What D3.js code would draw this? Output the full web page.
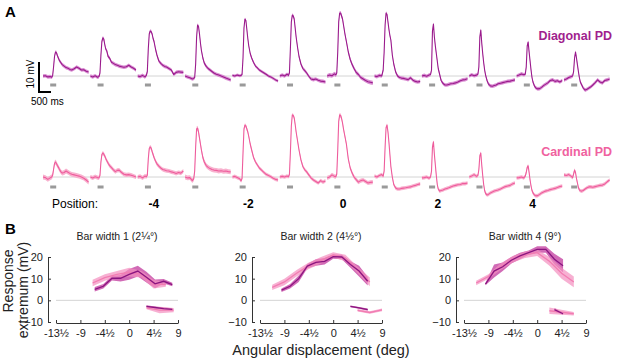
<!DOCTYPE html>
<html>
<head>
<meta charset="utf-8">
<script src="https://cdn.jsdelivr.net/npm/d3@7"></script>
<style>
  body { margin: 0; background: #fff; }
  svg { font-family: "Liberation Sans", Arial, sans-serif; }
</style>
</head>
<body>
<svg id="fig" width="617" height="358"></svg>
<script>
// ---- Panel A data: mean membrane potential (mV) per bar position ----
const positions = [-6, -5, -4, -3, -2, -1, 0, 1, 2, 3, 4, 5];
const positionLabels = [-4, -2, 0, 2, 4];
const traceTimes = [0, 100, 200, 300, 360, 400, 440, 480, 520, 560, 600, 640, 680, 740,
  800, 880, 960, 1040, 1120, 1200, 1300, 1400, 1500, 1600, 1700, 1800, 1900]; // ms
const stimWindow = [300, 550]; // ms

const diagonalTraces = [
  [0, 0.1, -0.3, -0.2, -0.4, 0, 3, 6.5, 8, 7.8, 6.8, 6, 5.2, 4.5, 3.8, 3.3, 2.8, 2.6, 2.2, 2, 2.4, 3, 2.6, 2, 2.1, 1.6, 1.3],
  [0, -0.3, 0.1, -0.4, -0.2, 1, 7, 11.5, 12.7, 12.3, 10.5, 9, 8.5, 6.5, 6, 4.6, 4.2, 3.8, 3.6, 3.3, 3.1, 2.9, 3.1, 3.6, 3, 2.6, 2],
  [0, -0.2, 0.2, -0.3, 0.2, 1.5, 9, 14, 15, 14.8, 14, 12.5, 11.5, 9, 7, 5, 4.2, 3.6, 3.2, 3, 2.5, 2, 0.5, 1.2, 1.4, 1.3, 1.2],
  [0, -0.3, -0.6, -1, -0.8, -0.5, 4, 13, 17, 16.5, 14, 11, 8.5, 6, 4.3, 3.2, 2.5, 2, 1.5, 1, 0.6, 0.3, 0, -0.3, -0.7, -1, -1.3],
  [0.2, 0, 0.3, 0.1, 0.2, 0.5, 6, 16, 19, 18.5, 15.5, 12.5, 10, 7.5, 6, 4.5, 3.3, 2.7, 2, 1.6, 1.1, 0.6, 0, -0.3, -0.8, -1.3, -1.7],
  [0, 0.3, 0, 0.6, 0.2, 1, 9, 18, 20.3, 20, 19, 16, 13, 9.5, 6.5, 4, 2.5, 1.8, 1, 0, -1, -1.2, -1, -1.4, -1.7, -1.8, -2],
  [0, 0.3, 0.1, 0.7, 0.4, 1, 8, 18, 21, 21, 20, 19, 17, 14, 11.5, 8, 5.5, 3.8, 2.5, 1.3, 0.5, -0.5, -1, -1.5, -1.9, -2.1, -2.3],
  [0, -0.2, 0.2, 0, 2, 8, 17, 21, 20.5, 18, 15.5, 13.5, 12, 7, 4, 1.3, 0, -0.5, -0.7, -0.8, -1, -1.2, -0.6, -1.4, -1.8, -2, -1.8],
  [0, 0.2, -0.1, 0.3, 0.5, 2, 15, 17.3, 13, 10, 7.5, 5, 2.5, 0.5, -1.5, -2.5, -3, -3, -2.8, -2.6, -2.5, -2.3, -2, -1.6, -1.3, -1.2, -0.9],
  [0, 0.4, 0.1, 0.3, 0.6, 3, 13, 15.3, 11, 7.5, 4.5, 2, 0.3, -1.5, -2.7, -3.3, -3.4, -3.2, -3, -2.6, -2.4, -2.2, -2, -1.8, -1.7, -1.5, -1.3],
  [0, 0.3, 0.7, 0.4, 0.6, 3, 10, 11.3, 8, 5, 2, -0.5, -2, -3.3, -4, -4.3, -4.2, -3.8, -3.2, -2.8, -2.3, -1.5, -1.3, -1.8, -1.6, -2, -1.5],
  [-1.3, -1, -0.5, -0.2, 0, 1.5, 6, 8, 6, 3.7, 1.5, -0.5, -2, -3, -4, -4.7, -4.4, -4, -3.6, -3, -2.2, -1.3, -2, -2.3, -1.5, -1.3, -1]
];
const diagonalSem = [0.6, 0.6, 0.6, 0.6, 0.5, 0.6, 0.7, 0.6, 0.6, 0.6, 0.6, 0.6];

const cardinalTraces = [
  [0, -0.2, -0.8, -0.3, 0, 0.5, 2.5, 4.5, 5, 4.5, 3.8, 3.3, 2.6, 1.8, 1.3, 1.5, 2, 1.6, 1.2, 0.9, 0.7, 0.5, 0.3, 0, -0.4, -1, -1.7],
  [0, -0.3, 0.1, -0.2, -0.3, 0.5, 5, 7.5, 8, 7.6, 7, 6.2, 5.5, 4.6, 3.8, 3.1, 2.4, 1.8, 2.2, 2.3, 1.5, 0.9, 0.7, 0.8, 0.6, 0.3, 0],
  [0, 0.2, -0.3, 0.3, 0.1, 0.6, 6, 9.5, 10, 9.6, 8.5, 7.5, 6.5, 5.3, 4.4, 3.6, 3, 2.5, 2.3, 2.1, 2, 1.7, 1.5, 1.2, 1.5, 1.3, 2],
  [0, -0.3, -0.2, -1.2, -0.6, 2, 10, 16, 16.3, 15, 13, 11, 9, 6.5, 5, 3.8, 3.2, 2.8, 2.5, 2.3, 2.2, 2, 2.1, 1.9, 2, 1.8, 1.7],
  [0, 0.2, -0.2, -0.6, -1.3, -0.5, 8, 16, 17.3, 17, 16, 15, 13.5, 11, 9, 6.5, 5, 4, 3, 2.4, 1.6, 0.9, 0.5, 0.1, -0.4, -0.8, -1],
  [0, 0.2, 0, 0.3, 0.1, 0.8, 8, 17, 20.7, 20.5, 19.7, 17.5, 15, 12, 9, 5.7, 3.5, 2.4, 1.7, 0.8, -0.3, -1, -1.5, -2, -1.2, -1.7, -1.3],
  [-0.3, 0, 0.7, 0.2, 0.1, 1, 9, 18.5, 20.7, 20.5, 19.5, 18, 16, 13.5, 11, 6, 3, 1.3, 0, -0.8, -1.7, -1.2, -1, -1.5, -2, -1.8, -1.7],
  [0.3, 0, 0.5, 0.8, 0.3, 2, 10, 16.5, 17.3, 15, 11.5, 7.5, 3.5, 0, -2.5, -3.7, -4, -4, -3.8, -3.7, -3.6, -3.4, -3.3, -3, -2.8, -2.5, -2.3],
  [-0.3, -0.2, 0, -0.4, 0, 2, 10, 11.7, 7.5, 4, 0.5, -2.5, -4, -4.7, -4.5, -4.3, -4, -3.8, -3.6, -3.3, -3, -2.8, -2.6, -2.5, -2.2, -2.2, -2],
  [0, 0.3, 0.8, 0.2, 0.5, 2.5, 7, 8, 4, 0.5, -2.5, -4.5, -5.5, -6, -5.8, -5.3, -5, -4.7, -4.5, -4.3, -4, -3.6, -3.2, -3, -2.8, -2.3, -2],
  [-0.3, -0.2, 0, -0.3, 0.3, 1.5, 3.2, 3.7, 1.5, -1, -3, -4.5, -5.3, -6, -6.3, -6.2, -5.8, -5.3, -5, -4.7, -4.5, -4.2, -4, -3.8, -3.5, -3.2, -3],
  [0.7, 0.5, 0.8, 0.2, -0.2, 1, 2.3, 1.5, -0.5, -2, -3.5, -4.3, -4.6, -4.7, -4.5, -4, -3.6, -3.3, -3.3, -3.4, -3.2, -3, -2.8, -2.7, -2.3, -1.6, -1]
];
const cardinalSem = [0.8, 0.7, 0.7, 0.8, 0.6, 0.6, 0.7, 0.6, 0.6, 0.6, 0.6, 0.6];

// ---- Panel B data: response extremum (mV) vs angular displacement (deg) ----
const xTicksB = [-13.5, -9, -4.5, 0, 4.5, 9];
const yTicksB = [-10, 0, 10, 20];
const barTitles = ["Bar width 1 (2¼°)", "Bar width 2 (4½°)", "Bar width 4 (9°)"];

const w1DiagX = [-6.36, -4.77, -3.18, -1.59, 0, 1.59, 3.18, 4.77, 6.36, 7.95];
const w1DiagMean = [5.1, 6.5, 10.2, 10.2, 12, 13.5, 10.7, 7.6, 8.8, 7.3];
const w1DiagSem = [1, 1, 1, 1.5, 2.5, 2.5, 2.5, 2, 1, 0.8];
const w1CardX = [-6.75, -4.5, -2.25, 0, 2.25, 4.5, 6.75];
const w1CardMean = [8, 10.5, 12, 13, 12, 7.5, 7.3];
const w1CardSem = [1.5, 1.5, 1.5, 2, 1.5, 2, 1];
const w1DiagNegX = [3.18, 4.77, 6.36, 7.95];
const w1DiagNegMean = [-2.8, -3.3, -3.8, -4.2];
const w1DiagNegSem = [0.5, 0.5, 0.5, 0.5];
const w1CardNegX = [3.2, 5.6, 8.2];
const w1CardNegMean = [-3.5, -4.5, -4.5];
const w1CardNegSem = [0.6, 1.5, 1];

const w2DiagX = [-9.54, -7.95, -6.36, -4.77, -3.18, -1.59, 0, 1.59, 3.18, 4.77, 6.36];
const w2DiagMean = [4.7, 6.5, 10, 15.8, 17.5, 18, 20.2, 20, 16.5, 13.5, 8.8];
const w2DiagSem = [0.8, 1, 1.5, 1, 1.5, 1.5, 1, 1, 1.5, 2.5, 2];
const w2CardX = [-11.25, -9, -6.75, -4.5, -2.25, 0, 2.25, 4.5, 6.75];
const w2CardMean = [6, 8.5, 12.5, 16, 18.5, 21, 19.5, 14, 8.5];
const w2CardSem = [1.2, 1.5, 1.5, 1.5, 1.5, 1.2, 1.5, 1.5, 2];
const w2DiagNegX = [3.18, 4.77, 6.36];
const w2DiagNegMean = [-2.8, -3.5, -4.3];
const w2DiagNegSem = [0.4, 0.4, 0.5];
const w2CardNegX = [4.5, 6.75, 9];
const w2CardNegMean = [-4.6, -5.6, -4.4];
const w2CardNegSem = [0.6, 0.6, 0.6];

const w3DiagX = [-9.54, -7.95, -6.36, -4.77, -3.18, -1.59, 0, 1.59, 3.18, 4.77];
const w3DiagMean = [7.5, 13.5, 15.5, 18.5, 20.5, 22, 23.5, 23.5, 19, 16];
const w3DiagSem = [0.5, 3, 2, 1.5, 1.5, 1, 1.5, 1.5, 2.5, 3];
const w3CardX = [-11.25, -9, -6.75, -4.5, -2.25, 0, 2.25, 4.5, 6.75];
const w3CardMean = [8, 11, 15.5, 19, 21, 22, 18, 12.5, 8.5];
const w3CardSem = [1, 1, 1.5, 1.5, 1.5, 1.5, 2, 2.5, 2.5];
const w3DiagNegX = [3.18, 4.77];
const w3DiagNegMean = [-4.3, -6.2];
const w3DiagNegSem = [0.8, 0.5];
const w3CardNegX = [2.25, 4.5, 6.75];
const w3CardNegMean = [-4.8, -5.5, -6.2];
const w3CardNegSem = [1.5, 1.2, 0.8];

// ---- drawing ----
const svg = d3.select("#fig");

// panel letters
svg.append("text").attr("x", 5).attr("y", 17).attr("font-size", 15).attr("font-weight", "bold").text("A");
svg.append("text").attr("x", 5).attr("y", 234).attr("font-size", 15).attr("font-weight", "bold").text("B");

// Panel A
const traceX = d3.scaleLinear().domain([-6, 5]).range([43, 564]);
const timeX = d3.scaleLinear().domain([0, 500]).range([0, 12]);

const rowsA = [
  { name: "Diagonal PD", traces: diagonalTraces, sem: diagonalSem,
    y: d3.scaleLinear().domain([0, 10]).range([76, 46]),
    line: "#9a1b8c", band: "#da8fd3", text: "#a11f8e", labelY: 40, markY: 83.5 },
  { name: "Cardinal PD", traces: cardinalTraces, sem: cardinalSem,
    y: d3.scaleLinear().domain([0, 10]).range([177, 147]),
    line: "#ee5c9c", band: "#f8b2cf", text: "#f0629f", labelY: 156, markY: 185.5 }
];

rowsA.forEach(row => {
  svg.append("line")
    .attr("x1", traceX(-6)).attr("x2", traceX(5) + timeX(1900))
    .attr("y1", row.y(0)).attr("y2", row.y(0))
    .attr("stroke", "#d4d4d4").attr("stroke-width", 1);

  positions.forEach((p, i) => {
    const x0 = traceX(p);
    const s = row.sem[i];
    const tx = (d, j) => x0 + timeX(traceTimes[j]);
    const area = d3.area().x(tx).y0(d => row.y(d - s)).y1(d => row.y(d + s));
    const line = d3.line().x(tx).y(d => row.y(d));

    svg.append("path").datum(row.traces[i]).attr("d", area).attr("fill", row.band);
    svg.append("path").datum(row.traces[i]).attr("d", line)
      .attr("fill", "none").attr("stroke", row.line).attr("stroke-width", 1.1)
      .attr("stroke-linejoin", "round");

    svg.append("rect")
      .attr("x", x0 + timeX(stimWindow[0])).attr("y", row.markY)
      .attr("width", timeX(stimWindow[1] - stimWindow[0])).attr("height", 3)
      .attr("fill", "#9a9a9a");
  });

  svg.append("text").attr("x", 612).attr("y", row.labelY).attr("text-anchor", "end")
    .attr("font-size", 12.5).attr("font-weight", "bold").attr("fill", row.text).text(row.name);
});

// scale bar (10 mV, 500 ms)
const barMv = d3.scaleLinear().domain([0, 10]).range([92, 62]);
svg.append("path")
  .attr("d", `M39,${barMv(10)}V${barMv(0)}H${39 + timeX(500)}`)
  .attr("fill", "none").attr("stroke", "#000").attr("stroke-width", 2);
svg.append("text").attr("transform", `translate(34,${barMv(5) - 3}) rotate(-90)`)
  .attr("text-anchor", "middle").attr("font-size", 10).text("10 mV");
svg.append("text").attr("x", 31).attr("y", 105).attr("font-size", 10).text("500 ms");

// position labels
svg.append("text").attr("x", 52).attr("y", 208).attr("font-size", 12).text("Position:");
positionLabels.forEach(p => {
  svg.append("text").attr("x", traceX(p) + 16).attr("y", 208).attr("text-anchor", "middle")
    .attr("font-size", 12).attr("font-weight", "bold").text(p);
});

// Panel B
const halfFmt = v => {
  const a = Math.abs(v), whole = Math.floor(a);
  return (v < 0 ? "-" : "") + (whole ? whole : (a % 1 ? "" : "0")) + (a % 1 ? "½" : "");
};

const subplots = [
  { title: barTitles[0], left: 56,
    series: [[w1DiagX, w1DiagMean, w1DiagSem, "d"], [w1CardX, w1CardMean, w1CardSem, "c"],
             [w1DiagNegX, w1DiagNegMean, w1DiagNegSem, "d"], [w1CardNegX, w1CardNegMean, w1CardNegSem, "c"]] },
  { title: barTitles[1], left: 260,
    series: [[w2DiagX, w2DiagMean, w2DiagSem, "d"], [w2CardX, w2CardMean, w2CardSem, "c"],
             [w2DiagNegX, w2DiagNegMean, w2DiagNegSem, "d"], [w2CardNegX, w2CardNegMean, w2CardNegSem, "c"]] },
  { title: barTitles[2], left: 464,
    series: [[w3DiagX, w3DiagMean, w3DiagSem, "d"], [w3CardX, w3CardMean, w3CardSem, "c"],
             [w3DiagNegX, w3DiagNegMean, w3DiagNegSem, "d"], [w3CardNegX, w3CardNegMean, w3CardNegSem, "c"]] }
];
const styleB = {
  d: { band: "#c23a9e", bandOp: 0.75, line: "#8a1580" },
  c: { band: "#f38fbf", bandOp: 0.7, line: "#f27cb2" }
};

subplots.forEach(sp => {
  const x = d3.scaleLinear().domain([-13.5, 9]).range([sp.left, sp.left + 122]);
  const y = d3.scaleLinear().domain([-10, 20]).range([322, 257]);
  const g = svg.append("g");

  g.append("line").attr("x1", x(-13.5)).attr("x2", x(9)).attr("y1", y(0)).attr("y2", y(0))
    .attr("stroke", "#d4d4d4").attr("stroke-width", 1);

  const ordered = [sp.series[0], sp.series[2], sp.series[1], sp.series[3]];
  ordered.forEach(([xs, ms, ss, k]) => {
    const pts = xs.map((v, i) => [v, ms[i], ss[i]]);
    g.append("path").datum(pts)
      .attr("d", d3.area().x(d => x(d[0])).y0(d => y(d[1] - d[2])).y1(d => y(d[1] + d[2])))
      .attr("fill", styleB[k].band).attr("fill-opacity", styleB[k].bandOp);
  });
  [sp.series[1], sp.series[3], sp.series[0], sp.series[2]].forEach(([xs, ms, ss, k]) => {
    const pts = xs.map((v, i) => [v, ms[i]]);
    g.append("path").datum(pts)
      .attr("d", d3.line().x(d => x(d[0])).y(d => y(d[1])))
      .attr("fill", "none").attr("stroke", styleB[k].line).attr("stroke-width", 1.3);
  });

  const yAxis = g.append("g").attr("transform", `translate(${sp.left - 8},0)`)
    .call(d3.axisLeft(y).tickValues(yTicksB).tickSize(-3).tickSizeOuter(0).tickPadding(5));
  const xAxis = g.append("g").attr("transform", `translate(0,${y(-10) + 1})`)
    .call(d3.axisBottom(x).tickValues(xTicksB).tickFormat(halfFmt).tickSize(-3).tickSizeOuter(0).tickPadding(6));
  [yAxis, xAxis].forEach(a => {
    a.selectAll("path, line").attr("stroke", "#333");
    a.selectAll("text").attr("font-size", 11).attr("fill", "#222")
      .attr("font-family", "\"Liberation Sans\", Arial, sans-serif");
  });

  g.append("text").attr("x", x(-2.25)).attr("y", 240).attr("text-anchor", "middle")
    .attr("font-size", 10.5).attr("fill", "#222").text(sp.title);
});

// Panel B axis titles
svg.append("text").attr("transform", "translate(13,281) rotate(-90)").attr("text-anchor", "middle")
  .attr("font-size", 14).attr("fill", "#222").text("Response");
svg.append("text").attr("transform", "translate(28,290) rotate(-90)").attr("text-anchor", "middle")
  .attr("font-size", 14).attr("fill", "#222").text("extremum (mV)");
svg.append("text").attr("x", 321).attr("y", 355).attr("text-anchor", "middle")
  .attr("font-size", 14.5).attr("fill", "#222").text("Angular displacement (deg)");
</script>
</body>
</html>
